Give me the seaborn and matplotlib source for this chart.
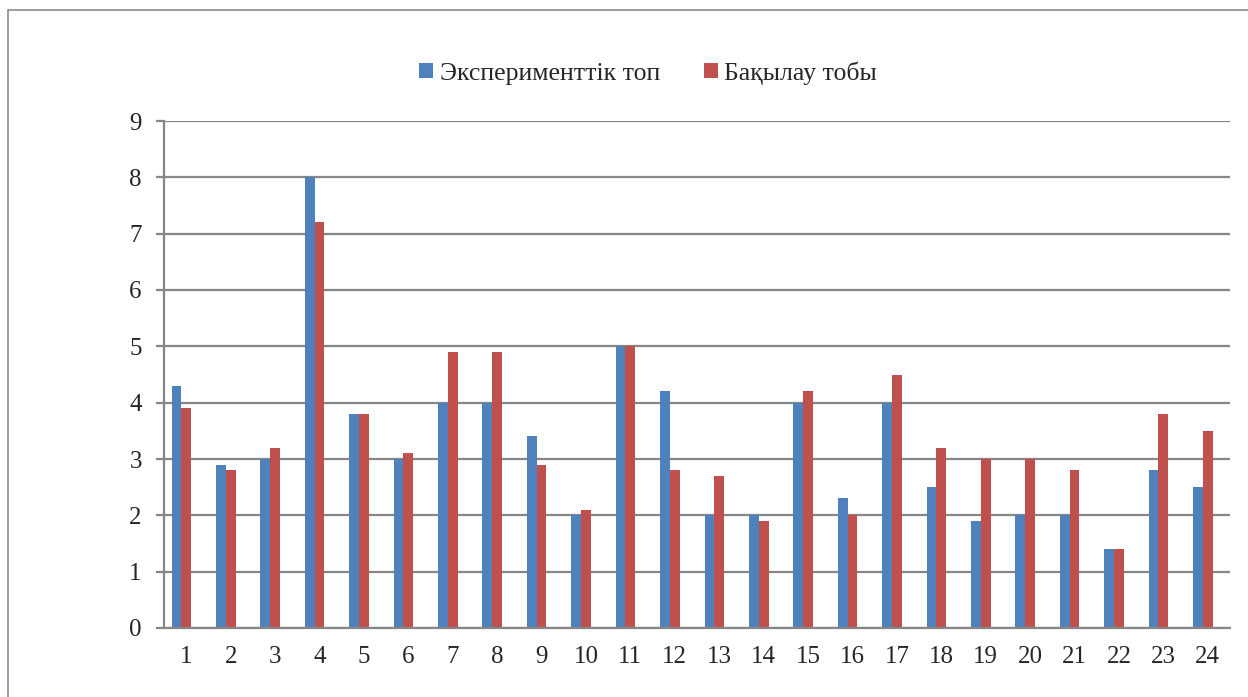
import numpy as np
import pandas as pd
import matplotlib
matplotlib.use("Agg")
import matplotlib.pyplot as plt
from matplotlib.patches import Patch, Rectangle
import seaborn as sns

categories = [str(i) for i in range(1, 25)]
experimental = [4.3, 2.9, 3.0, 8.0, 3.8, 3.0, 4.0, 4.0, 3.4, 2.0, 5.0, 4.2,
                2.0, 2.0, 4.0, 2.3, 4.0, 2.5, 1.9, 2.0, 2.0, 1.4, 2.8, 2.5]
control = [3.9, 2.8, 3.2, 7.2, 3.8, 3.1, 4.9, 4.9, 2.9, 2.1, 5.0, 2.8,
           2.7, 1.9, 4.2, 2.0, 4.5, 3.2, 3.0, 3.0, 2.8, 1.4, 3.8, 3.5]
series_names = ["Эксперименттік топ", "Бақылау тобы"]
colors = ["#4F81BD", "#C0504D"]
grid_color = "#868686"

df = pd.DataFrame({
    "cat": categories * 2,
    "value": experimental + control,
    "group": [series_names[0]] * 24 + [series_names[1]] * 24,
})

sns.set_style("white")
plt.rcParams["font.family"] = ["Liberation Serif", "DejaVu Serif"]

fig = plt.figure(figsize=(12.48, 6.97), dpi=100)
ax = fig.add_axes([164 / 1248, 1 - 628 / 697, (1230 - 164) / 1248, (628 - 121) / 697])

# third (empty) slot keeps the Excel-like offset of the pair
hue_order = series_names + ["_empty"]
sns.barplot(data=df, x="cat", y="value", hue="group", hue_order=hue_order,
            order=categories, palette=colors + ["white"], saturation=1,
            width=0.66, gap=0, linewidth=0, legend=False, ax=ax,
            err_kws={"linewidth": 0})

ax.set_xlim(-0.5, 23.5)
ax.set_ylim(0, 9)
ax.set_yticks(range(0, 10))
ax.set_xlabel("")
ax.set_ylabel("")
ax.yaxis.grid(True, color=grid_color, linewidth=1.6)
ax.set_axisbelow(True)
for s in ["top", "right"]:
    ax.spines[s].set_visible(False)
for s in ["left", "bottom"]:
    ax.spines[s].set_color(grid_color)
    ax.spines[s].set_linewidth(1.6)

ax.set_xticks(np.arange(-0.5, 24, 1), minor=True)
ax.tick_params(axis="x", which="major", length=0, pad=13, labelsize=18)
ax.tick_params(axis="x", which="minor", length=4, width=1.6, color=grid_color, direction="out")
ax.tick_params(axis="y", length=6, width=1.6, color=grid_color, pad=10, labelsize=18, left=True)

handles = [Patch(facecolor=c, edgecolor="none") for c in colors]
fig.legend(handles, series_names, loc="center", bbox_to_anchor=(648 / 1248, 1 - 73 / 697),
           ncol=2, frameon=False, fontsize=18.5, handlelength=0.55, handleheight=0.55,
           handletextpad=0.25, columnspacing=1.7)

fig.patches.append(Rectangle((8 / 1248, -0.2), 2, 1.2 - 10 / 697, transform=fig.transFigure,
                             fill=False, edgecolor="#8c8c8c", linewidth=1.2))

fig.savefig("out.png", dpi=100)
